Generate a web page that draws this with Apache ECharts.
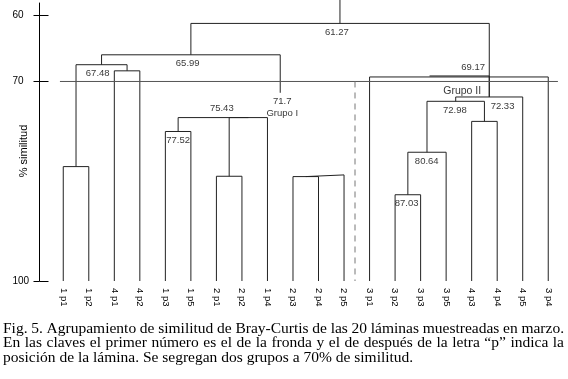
<!DOCTYPE html>
<html><head><meta charset="utf-8">
<script src="https://cdn.jsdelivr.net/npm/echarts@6/dist/echarts.min.js"></script>
<style>html,body{margin:0;padding:0;background:#fff}#c{width:568px;height:379px}</style>
</head><body><div id="c"></div>
<script>
// ---- data ----
const leafLabels = ['1 p1','1 p2','4 p1','4 p2','1 p3','1 p5','2 p1','2 p2','1 p4','2 p3',
                    '2 p4','2 p5','3 p1','3 p2','3 p3','3 p5','4 p3','4 p4','4 p5','3 p4'];
// dendrogram links, scipy style: x in leaf-position units, y in % similarity
const linkX = [
  [0,0,1,1],
  [2,2,3,3],
  [0.5,0.5,2.5,2.5],
  [4,4,5,5],
  [6,6,7,7],
  [6.5,6.5,8,8],
  [4.5,4.5,7.25,7.25],
  [9,9,10,10],
  [9.5,9.5,11,11],
  [1.5,1.5,8.5,8.5],
  [13,13,14,14],
  [13.5,13.5,15,15],
  [16,16,17,17],
  [14.25,14.25,16.5,16.5],
  [15.375,15.375,18,18],
  [12,12,19,19],
  [14.35,14.35,16.69,16.69],
  [5,5,16.69,16.69],
  [10.84,10.84]
];
const linkY = [
  [100,82.8,82.8,100],
  [100,68.4,68.4,100],
  [82.8,67.48,67.48,68.4],
  [100,77.52,77.52,100],
  [100,84.25,84.25,100],
  [84.25,75.43,75.43,100],
  [77.52,75.43,75.43,75.43],
  [100,84.3,84.3,100],
  [84.3,84.05,84.05,100],
  [67.48,65.99,65.99,71.7],
  [100,87.03,87.03,100],
  [87.03,80.64,80.64,100],
  [100,76.0,76.0,100],
  [80.64,72.98,72.98,76.0],
  [72.98,72.33,72.33,100],
  [100,69.32,69.32,100],
  [69.17,69.17,69.17,72.33],
  [65.99,61.27,61.27,72.33],
  [61.27,57.75]
];
const cutLevel = 70;
const cutSpan = [-0.13, 19.38];
const groupDivider = 11.43;
const dividerSpan = [70, 100];
const yTickValues = [60, 70, 100];
const yAxisTitle = '% similitud';
const nodeLabelText = ['61.27','65.99','67.48','71.7\nGrupo I','75.43','77.52','69.17','Grupo II','72.98','72.33','80.64','87.03'];
const nodeLabelX    = [10.72, 4.875, 1.35, 8.58, 6.21, 4.5, 16.06, 15.63, 15.34, 17.21, 14.24, 13.45];
const nodeLabelY    = [61.27, 65.99, 67.48, 71.7, 75.43, 77.52, 69.17, 71.39, 72.98, 72.33, 80.64, 87.03];
const nodeLabelSide = ['below','below','below','below','above','below','above','center','below','below','below','below'];
const captionLines = [
  'Fig. 5. Agrupamiento de similitud de Bray-Curtis de las 20 láminas muestreadas en marzo.',
  'En las claves el primer número es el de la fronda y el de después de la letra “p” indica la',
  'posición de la lámina. Se segregan dos grupos a 70% de similitud.'
];
const captionJustified = [true, true, false];

// ---- chart ----
const SANS = '"Liberation Sans", Arial, sans-serif';
const CAP_FONT = '15.5px "Liberation Serif", "Times New Roman", serif';
const chart = echarts.init(document.getElementById('c'), null, {renderer: 'canvas'});

const series = [];
linkX.forEach((xs, k) => {
  series.push({
    type: 'line', xAxisIndex: 1, yAxisIndex: 0, clip: false, silent: true,
    symbol: 'none', animation: false,
    lineStyle: {color: '#222', width: 1},
    data: xs.map((x, j) => [x, linkY[k][j]])
  });
});
series.push({
  type: 'line', xAxisIndex: 1, yAxisIndex: 0, symbol: 'none', animation: false, silent: true, clip: false,
  lineStyle: {color: '#555', width: 1},
  data: cutSpan.map(x => [x, cutLevel])
});
series.push({
  type: 'line', xAxisIndex: 1, yAxisIndex: 0, symbol: 'none', animation: false, silent: true,
  lineStyle: {color: '#777', width: 1, type: [6, 5]},
  data: dividerSpan.map(v => [groupDivider, v])
});
series.push({
  type: 'scatter', xAxisIndex: 1, yAxisIndex: 0, symbolSize: 0, animation: false, silent: true,
  data: nodeLabelText.map((t, i) => ({
    value: [nodeLabelX[i], nodeLabelY[i]],
    label: {
      show: true, formatter: t,
      position: nodeLabelSide[i] === 'above' ? 'top' : (nodeLabelSide[i] === 'below' ? 'bottom' : 'inside'),
      distance: 3, color: '#000', fontFamily: SANS,
      fontSize: t.indexOf('Grupo') >= 0 && t.indexOf('\n') < 0 ? 10.5 : 9.5,
      lineHeight: 12, align: 'center'
    }
  }))
});

// caption (justified where the original is)
const ctx = document.createElement('canvas').getContext('2d');
ctx.font = CAP_FONT;
const capLeft = 3, capRight = 564, capY0 = 329, capLH = 14.4;
const graphics = [];
captionLines.forEach((line, li) => {
  const y = capY0 + li * capLH;
  if (!captionJustified[li]) {
    graphics.push({type: 'text', x: capLeft, y: y, silent: true,
      style: {text: line, font: CAP_FONT, fill: '#000', align: 'left', verticalAlign: 'middle'}});
    return;
  }
  const words = line.split(' ');
  const widths = words.map(w => ctx.measureText(w).width);
  const total = widths.reduce((a, b) => a + b, 0);
  const gap = (capRight - capLeft - total) / (words.length - 1);
  let x = capLeft;
  words.forEach((w, i) => {
    graphics.push({type: 'text', x: x, y: y, silent: true,
      style: {text: w, font: CAP_FONT, fill: '#000', align: 'left', verticalAlign: 'middle'}});
    x += widths[i] + gap;
  });
});
// y axis title, rotated
graphics.push({type: 'text', x: 24, y: 151, rotation: Math.PI / 2, silent: true,
  style: {text: yAxisTitle, font: '11px ' + SANS, fill: '#000', align: 'center', verticalAlign: 'middle'}});

chart.setOption({
  backgroundColor: '#fff',
  animation: false,
  grid: {left: 50.5, right: 7, top: 3, bottom: 98, containLabel: false, outerBoundsMode: 'none'},
  xAxis: [
    {type: 'category', data: leafLabels, boundaryGap: true, position: 'bottom',
     axisLine: {show: false, onZero: false}, axisTick: {show: false}, splitLine: {show: false},
     axisLabel: {interval: 0, rotate: -90, margin: 7, fontSize: 9.5, color: '#000', fontFamily: SANS}},
    {type: 'value', min: -0.5, max: 19.5, show: false, axisLine: {onZero: false}}
  ],
  yAxis: [
    {type: 'value', inverse: true, min: 58.2, max: 100, position: 'left', offset: 11,
     axisLine: {show: true, onZero: false, lineStyle: {color: '#000', width: 1}},
     axisTick: {show: true, length: 6, customValues: yTickValues, lineStyle: {color: '#000'}},
     axisLabel: {show: true, customValues: yTickValues, align: 'left', margin: 27, fontSize: 10, color: '#000', fontFamily: SANS},
     splitLine: {show: false}},
    {type: 'value', inverse: true, min: 58.2, max: 100, position: 'left', offset: 11,
     axisLine: {show: false, onZero: false},
     axisTick: {show: true, inside: true, length: 9, customValues: yTickValues, lineStyle: {color: '#000'}},
     axisLabel: {show: false}, splitLine: {show: false}}
  ],
  series: series,
  graphic: graphics
});
</script></body></html>
